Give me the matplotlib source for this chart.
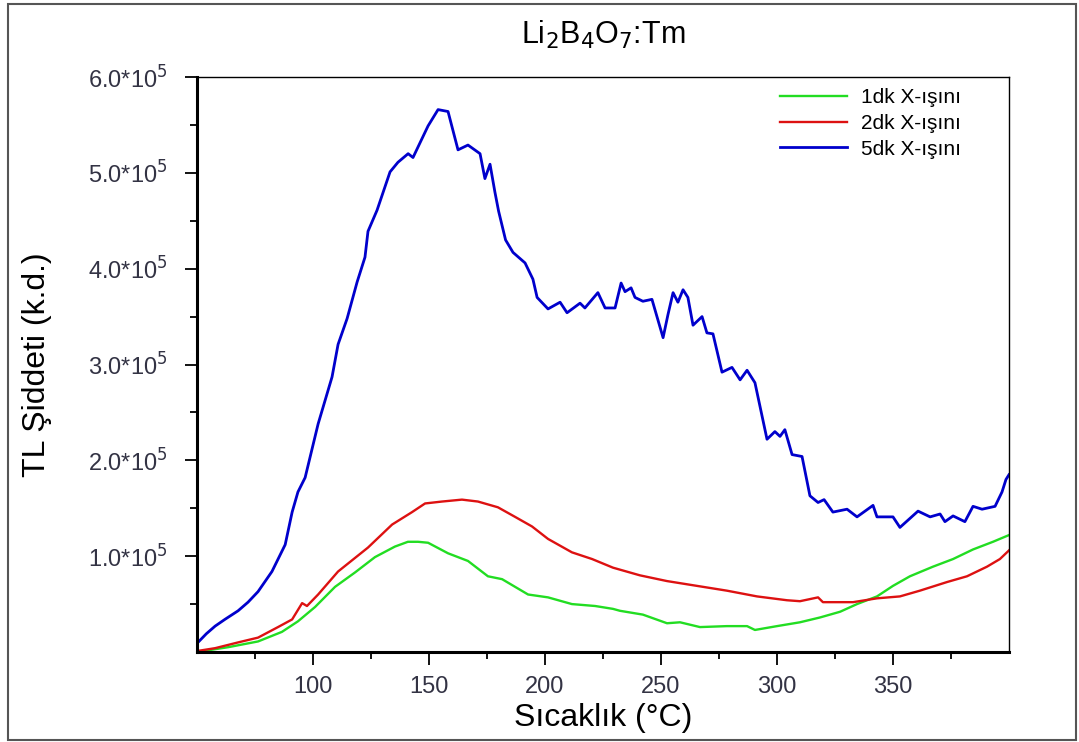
import numpy as np
import matplotlib.pyplot as plt
from matplotlib.patches import Rectangle
from matplotlib.ticker import FixedLocator, FuncFormatter

plt.rcParams['font.family'] = ['Liberation Sans', 'DejaVu Sans']

# temperature (C) and TL intensity (in units of 1e5)
t_1dk = [50, 63.4, 76.3, 86.6, 93.5, 100.9, 109.5, 118.1, 126.7, 135.3, 140.9, 145.3,
         149.6, 158.2, 166.8, 175.4, 181.5, 192.7, 201.3, 211.6, 221.6, 229.3, 232.3,
         242.2, 252.6, 258.2, 266.8, 278.4, 287.1, 290.5, 300, 309.9, 318.5, 327.2,
         334.5, 343.1, 350, 357.3, 367.2, 375.9, 384.5, 393.1, 400]
i_1dk = [0.0, 0.05, 0.11, 0.21, 0.32, 0.47, 0.68, 0.83, 0.99, 1.10, 1.15, 1.15,
         1.14, 1.03, 0.95, 0.79, 0.76, 0.60, 0.57, 0.50, 0.48, 0.45, 0.43,
         0.39, 0.30, 0.31, 0.26, 0.27, 0.27, 0.23, 0.27, 0.31, 0.36, 0.42,
         0.50, 0.58, 0.69, 0.79, 0.89, 0.97, 1.07, 1.15, 1.22]

t_2dk = [50, 57.8, 67.7, 76.3, 84.9, 91, 95.3, 97.4, 102.2, 110.8, 123.7, 134.1,
         142.7, 148.3, 155.6, 164.2, 171.1, 179.7, 187.1, 194.4, 201.3, 211.6,
         220.3, 229.3, 240.9, 252.6, 265.5, 278.4, 291.4, 304.3, 309.9, 317.7,
         319.8, 332.8, 343.1, 353, 361.6, 373.3, 381.9, 390.5, 396.1, 400]
i_2dk = [0.01, 0.04, 0.10, 0.15, 0.26, 0.34, 0.51, 0.48, 0.60, 0.84, 1.09, 1.33,
         1.46, 1.55, 1.57, 1.59, 1.57, 1.51, 1.41, 1.31, 1.18, 1.04,
         0.97, 0.88, 0.80, 0.74, 0.69, 0.64, 0.58, 0.54, 0.53, 0.57,
         0.52, 0.52, 0.56, 0.58, 0.64, 0.73, 0.79, 0.89, 0.97, 1.06]

t_5dk = [50, 54, 57.8, 62, 67.7, 72, 76.3, 82.3, 88, 91, 93.5, 96.6, 102.2, 108.2,
         110.8, 114.7, 119, 122.4, 123.7, 127.6, 133.2, 136.6, 141, 143.1, 149.6,
         153.9, 158.2, 162.5, 166.8, 172, 174.1, 176.3, 178.4, 180, 183, 186.2,
         191.4, 194.8, 196.6, 201.3, 206.5, 209.5, 215.1, 217.2, 222.8, 225.9,
         230.2, 232.8, 234.5, 237.1, 238.8, 242.2, 246.1, 250.9, 253, 255.2,
         257.3, 259.5, 261.6, 263.8, 267.7, 269.8, 272.4, 276.3, 280.6, 284.1,
         287.1, 290.5, 295.7, 299.1, 301.3, 303.4, 306.5, 310.8, 314.2, 317.7,
         320.3, 324.1, 330.2, 334.5, 341.4, 343.1, 350, 353, 360.8, 366, 370.3,
         372.4, 375.9, 381, 384.5, 388.4, 394, 397, 398.7, 400]
i_5dk = [0.09, 0.19, 0.27, 0.34, 0.43, 0.52, 0.63, 0.84, 1.12, 1.46, 1.67, 1.82, 2.38,
         2.87, 3.21, 3.48, 3.86, 4.12, 4.39, 4.61, 5.01, 5.11, 5.20, 5.16, 5.49,
         5.66, 5.64, 5.24, 5.29, 5.20, 4.94, 5.09, 4.80, 4.60, 4.30, 4.17,
         4.06, 3.89, 3.70, 3.58, 3.65, 3.54, 3.64, 3.59, 3.75, 3.59,
         3.59, 3.85, 3.76, 3.80, 3.70, 3.66, 3.68, 3.28, 3.52, 3.75,
         3.65, 3.78, 3.70, 3.41, 3.50, 3.33, 3.32, 2.92, 2.97, 2.84,
         2.94, 2.81, 2.22, 2.30, 2.25, 2.32, 2.06, 2.04, 1.63, 1.56,
         1.59, 1.46, 1.49, 1.41, 1.53, 1.41, 1.41, 1.30, 1.47, 1.41, 1.44,
         1.36, 1.42, 1.36, 1.52, 1.49, 1.52, 1.67, 1.80, 1.85]

labels = ['1dk X-ışını', '2dk X-ışını', '5dk X-ışını']
colors = ['#22dd22', '#dd1111', '#0000cc']
widths = [1.7, 1.7, 2.0]

fig = plt.figure(figsize=(10.79, 7.42), dpi=100)
ax = fig.add_axes([0.1826, 0.1213, 0.7525, 0.7749])

for t, i, lab, c, w in zip([t_1dk, t_2dk, t_5dk], [i_1dk, i_2dk, i_5dk], labels, colors, widths):
    ax.plot(t, np.array(i) * 1e5, color=c, lw=w, label=lab)

ax.set_xlim(50, 400)
ax.set_ylim(0, 6e5)
ax.set_xticks([100, 150, 200, 250, 300, 350])
ax.xaxis.set_minor_locator(FixedLocator([75, 125, 175, 225, 275, 325, 375]))
ax.set_yticks([1e5, 2e5, 3e5, 4e5, 5e5, 6e5])
ax.yaxis.set_minor_locator(FixedLocator([0.5e5, 1.5e5, 2.5e5, 3.5e5, 4.5e5, 5.5e5]))
ax.yaxis.set_major_formatter(FuncFormatter(lambda v, p: '%.1f*10$^5$' % (v / 1e5)))

ax.tick_params(which='major', direction='out', length=9, width=1.3,
               labelsize=17, labelcolor='#333344', pad=8)
ax.tick_params(axis='y', which='major', pad=12)
ax.tick_params(which='minor', direction='out', length=5, width=1.3)
for s in ['left', 'bottom']:
    ax.spines[s].set_linewidth(2.2)
for s in ['top', 'right']:
    ax.spines[s].set_linewidth(1.0)

ax.set_xlabel('Sıcaklık (°C)', fontsize=23, labelpad=4)
ax.set_ylabel('TL Şiddeti (k.d.)', fontsize=23)
ax.yaxis.set_label_coords(-0.178, 0.5)
ax.set_title('Li$_2$B$_4$O$_7$:Tm', fontsize=22, pad=24)

ax.legend(loc='upper left', frameon=False, fontsize=15, handlelength=3.2,
          handletextpad=0.7, labelspacing=0.32, borderaxespad=0,
          bbox_to_anchor=(0.708, 0.995))

fig.patches.append(Rectangle((8 / 1079, 2 / 742), 1068 / 1079, 736 / 742,
                             transform=fig.transFigure, fill=False,
                             edgecolor='#555555', lw=1.5))

plt.savefig('out.png', dpi=100)
